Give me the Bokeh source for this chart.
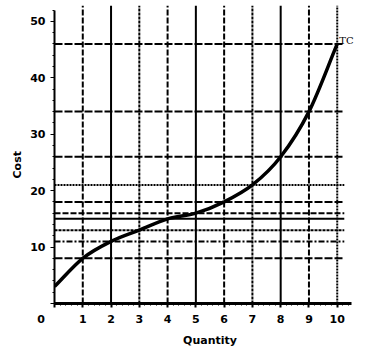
import numpy as np
from bokeh.plotting import figure
from bokeh.models import Range1d, SingleIntervalTicker, Label, Title
from bokeh.embed import file_html
from bokeh.resources import INLINE

# Data
quantity = [0, 1, 2, 3, 4, 5, 6, 7, 8, 9, 10]
total_cost = [3, 8, 11, 13, 15, 16, 18, 21, 26, 34, 46]
grid_x = [1, 2, 3, 4, 5, 6, 7, 8, 9, 10]
grid_y = [8, 11, 13, 15, 16, 18, 21, 26, 34, 46]

X_MAX = 11
Y_MAX = 52.8
H_END = 10.25

FONT = "DejaVu Sans"

p = figure(width=368, height=354, output_backend="svg", toolbar_location=None,
           x_range=Range1d(0, X_MAX), y_range=Range1d(0, Y_MAX),
           min_border_left=54, min_border_right=3, min_border_top=5,
           min_border_bottom=51)
p.outline_line_color = None
p.grid.visible = False
p.background_fill_color = "white"
p.border_fill_color = "white"

v_styles = ["6 2", "solid", "3 1", "6 2", "solid", "6 2", "3 1", "solid", "6 2", "2 1"]
h_styles = ["8 2", "6 2 2 2", "3 1", "solid", "6 2", "8 2", "2 1", "8 2", "8 2", "8 2"]

for xv, st in zip(grid_x, v_styles):
    p.segment(x0=[xv], y0=[0], x1=[xv], y1=[Y_MAX], line_color="black",
              line_width=2, line_dash=st)

for yv, st in zip(grid_y, h_styles):
    p.segment(x0=[0], y0=[yv], x1=[H_END], y1=[yv], line_color="black",
              line_width=2, line_dash=st)

# smooth curve via Catmull-Rom -> Bezier
q = np.array(quantity, dtype=float)
c = np.array(total_cost, dtype=float)
qp = np.concatenate([[2 * q[0] - q[1]], q, [2 * q[-1] - q[-2]]])
cp = np.concatenate([[2 * c[0] - c[1]], c, [2 * c[-1] - c[-2]]])
x0 = qp[1:-2]; y0 = cp[1:-2]
x1 = qp[2:-1]; y1 = cp[2:-1]
cx0 = x0 + (qp[2:-1] - qp[:-3]) / 6
cy0 = y0 + (cp[2:-1] - cp[:-3]) / 6
cx1 = x1 - (qp[3:] - qp[1:-2]) / 6
cy1 = y1 - (cp[3:] - cp[1:-2]) / 6
p.bezier(x0=x0, y0=y0, x1=x1, y1=y1, cx0=cx0, cy0=cy0, cx1=cx1, cy1=cy1,
         line_color="black", line_width=3.5)

# axes
p.xaxis.ticker = SingleIntervalTicker(interval=1, num_minor_ticks=5)
p.yaxis.ticker = SingleIntervalTicker(interval=10, num_minor_ticks=5)
p.xaxis.bounds = (0, 10.5)
p.yaxis.bounds = (0, 52)
p.xaxis.major_label_overrides = {0: "0" + "\u00a0" * 7}
p.yaxis.major_label_overrides = {0: ""}
for ax in (p.xaxis[0], p.yaxis[0]):
    ax.axis_line_color = "black"
    ax.major_tick_line_color = "black"
    ax.minor_tick_line_color = "black"
    ax.major_tick_in = 0
    ax.major_tick_out = 4
    ax.minor_tick_in = 0
    ax.minor_tick_out = 2
    ax.major_label_text_font = FONT
    ax.major_label_text_font_style = "bold"
    ax.major_label_text_font_size = "11px"
    ax.major_label_text_color = "black"
    ax.major_label_standoff = 5
p.xaxis.axis_line_width = 3
p.yaxis.axis_line_width = 2
p.xaxis.major_tick_line_width = 2
p.yaxis.major_tick_line_width = 1

p.add_layout(Title(text="Quantity", align="center", offset=-14, standoff=6,
                   text_font=FONT, text_font_style="bold", text_font_size="11px",
                   text_color="black"), "below")
p.add_layout(Title(text="Cost", align="left", offset=125, standoff=8,
                   text_font=FONT, text_font_style="bold", text_font_size="11px",
                   text_color="black"), "left")

p.add_layout(Label(x=quantity[-1], y=total_cost[-1], x_offset=2, y_offset=3, text="TC",
                   text_font="DejaVu Serif", text_font_size="10px", text_color="black",
                   text_align="left", text_baseline="middle"))

open("out.html", "w").write(file_html(p, INLINE))
